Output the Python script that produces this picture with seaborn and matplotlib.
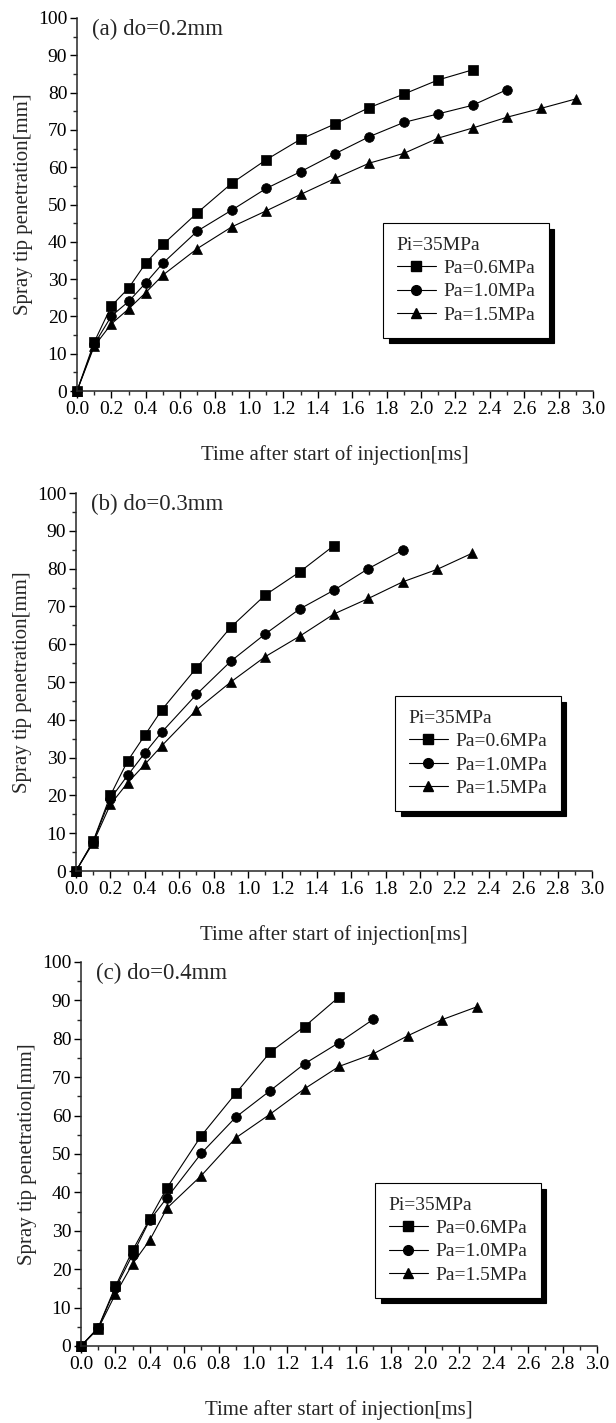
import numpy as np
import pandas as pd
import matplotlib
matplotlib.use('Agg')
import matplotlib.pyplot as plt
import seaborn as sns
from matplotlib.lines import Line2D
from matplotlib.ticker import MultipleLocator, FormatStrFormatter

# ── DATA ──────────────────────────────────────
# measurement times [ms]; each series uses the first len(series) of them
time_ms = [0.0, 0.1, 0.2, 0.3, 0.4, 0.5, 0.7, 0.9, 1.1, 1.3, 1.5,
           1.7, 1.9, 2.1, 2.3, 2.5, 2.7, 2.9]

pa_labels = ['Pa=0.6MPa', 'Pa=1.0MPa', 'Pa=1.5MPa']
pa_markers = ['s', 'o', '^']

# (a) do=0.2mm
a_pa06 = [0, 13.1, 22.8, 27.6, 34.3, 39.3, 47.8, 55.7, 62.0, 67.5, 71.6,
          76.0, 79.6, 83.4, 86.1]
a_pa10 = [0, 12.5, 20.1, 24.0, 29.0, 34.3, 42.9, 48.5, 54.3, 58.8, 63.6,
          68.2, 72.0, 74.3, 76.6, 80.8]
a_pa15 = [0, 12.0, 18.0, 22.0, 26.4, 31.1, 38.2, 44.0, 48.3, 52.7, 57.0,
          61.1, 63.7, 67.8, 70.5, 73.4, 75.8, 78.3]

# (b) do=0.3mm
b_pa06 = [0, 7.9, 20.0, 29.1, 35.9, 42.7, 53.7, 64.5, 73.0, 79.1, 86.1]
b_pa10 = [0, 7.8, 19.1, 25.3, 31.2, 36.8, 46.7, 55.5, 62.7, 69.3, 74.3,
          80.0, 84.9]
b_pa15 = [0, 7.5, 17.6, 23.3, 28.2, 33.2, 42.6, 50.0, 56.7, 62.1, 68.0,
          72.1, 76.5, 79.8, 84.0]

# (c) do=0.4mm
c_pa06 = [0, 4.8, 15.5, 24.9, 33.1, 41.2, 54.8, 65.8, 76.5, 83.2, 90.9]
c_pa10 = [0, 4.7, 15.0, 23.8, 32.8, 38.6, 50.2, 59.6, 66.5, 73.5, 79.0,
          85.1]
c_pa15 = [0, 4.5, 13.5, 21.4, 27.6, 35.9, 44.4, 54.2, 60.4, 67.0, 72.8,
          76.1, 80.8, 85.0, 88.3]

panel_titles = ['(a) do=0.2mm', '(b) do=0.3mm', '(c) do=0.4mm']
panel_series = [[a_pa06, a_pa10, a_pa15],
                [b_pa06, b_pa10, b_pa15],
                [c_pa06, c_pa10, c_pa15]]

# ── STYLE ─────────────────────────────────────
sns.set_style('ticks')
plt.rcParams['font.family'] = ['Liberation Serif', 'DejaVu Serif']
plt.rcParams['axes.linewidth'] = 1.1

W, H = 616, 1423
fig = plt.figure(figsize=(W / 100, H / 100), dpi=100)

# axes rectangles in pixels: left, x=3.0 pixel, y=100 pixel, y=0 pixel
boxes = [(77, 593, 18, 391), (76, 592, 493, 871), (81, 597, 962, 1346)]
# legend upper-left corner in pixels
leg_pos = [(383, 223), (395, 696), (375, 1183)]

for i in range(3):
    x0, x1, ytop, ybot = boxes[i]
    ax = fig.add_axes([x0 / W, 1 - ybot / H, (x1 - x0) / W, (ybot - ytop) / H])

    rows = []
    for lab, s in zip(pa_labels, panel_series[i]):
        for t, v in zip(time_ms[:len(s)], s):
            rows.append({'t': t, 'S': v, 'Pa': lab})
    df = pd.DataFrame(rows)

    sns.lineplot(data=df, x='t', y='S', style='Pa', style_order=pa_labels,
                 markers=pa_markers, dashes=False, color='black',
                 markersize=7, linewidth=0.8, markeredgecolor='black',
                 markeredgewidth=0.5, errorbar=None, legend=False, ax=ax,
                 clip_on=False)

    ax.set_xlim(0, 3.0)
    ax.set_ylim(0, 100)
    ax.xaxis.set_major_locator(MultipleLocator(0.2))
    ax.xaxis.set_minor_locator(MultipleLocator(0.1))
    ax.xaxis.set_major_formatter(FormatStrFormatter('%.1f'))
    ax.yaxis.set_major_locator(MultipleLocator(10))
    ax.yaxis.set_minor_locator(MultipleLocator(5))
    ax.tick_params(which='major', direction='out', length=5, width=1.0,
                   labelsize=14, pad=2, color='black', labelcolor='black')
    ax.tick_params(which='minor', direction='out', length=3, width=1.0)
    sns.despine(ax=ax)

    ph = ybot - ytop
    ax.set_xlabel('Time after start of injection[ms]', fontsize=15)
    ax.xaxis.set_label_coords(0.5, -64 / ph)
    ax.xaxis.label.set_va('center')
    ax.set_ylabel('Spray tip penetration[mm]', fontsize=15)
    ax.yaxis.set_label_coords(-53 / (x1 - x0), 0.5)
    ax.yaxis.label.set_va('center')

    ax.text(0.09, 97, panel_titles[i], fontsize=16.5, ha='left', va='center')

    handles = [Line2D([], [], color='black', lw=0.8, marker=m, ms=7,
                      mec='black') for m in pa_markers]
    lx, ly = leg_pos[i]
    ax.legend(handles, pa_labels, title='Pi=35MPa', loc='upper left',
              bbox_to_anchor=((lx - x0) / (x1 - x0), (ybot - ly) / ph),
              borderaxespad=0, fancybox=False, edgecolor='black',
              framealpha=1, alignment='left', fontsize=14,
              title_fontsize=14, handlelength=2.0, handletextpad=0.4,
              labelspacing=0.3, borderpad=0.7,
              shadow={'color': 'black', 'alpha': 1, 'ox': 4, 'oy': -4})
    ax.get_legend().get_frame().set_linewidth(0.8)

plt.savefig('out.png', dpi=100)
